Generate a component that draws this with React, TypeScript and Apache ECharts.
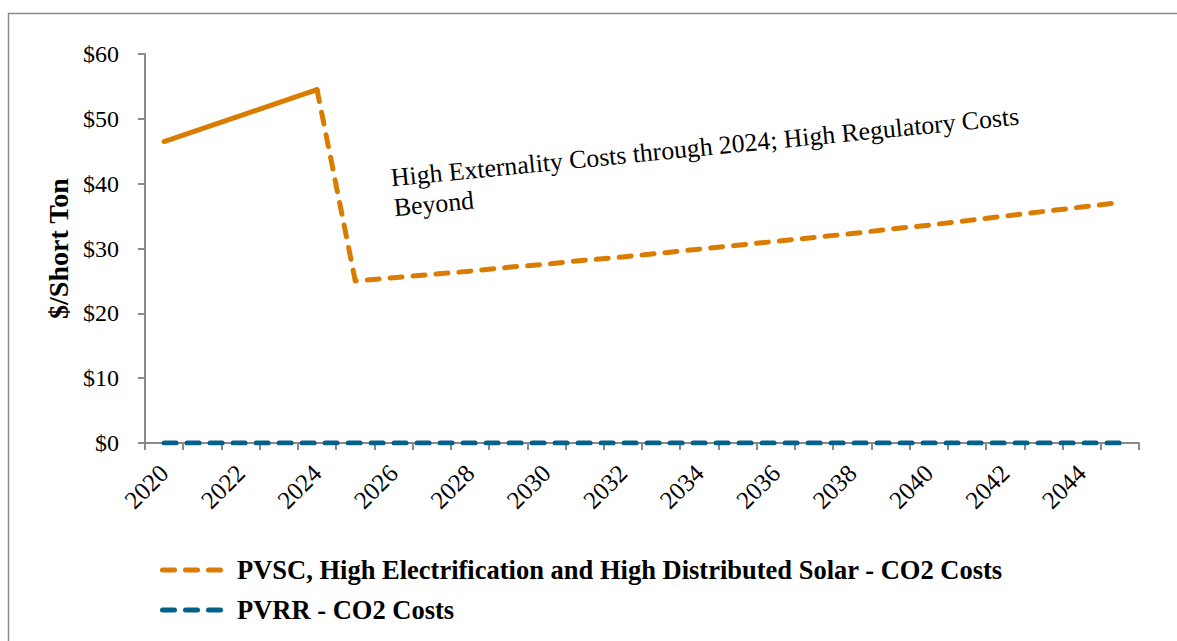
import React, { useEffect, useRef } from "react";
import * as echarts from "echarts";

const years: string[] = [
  "2020", "2021", "2022", "2023", "2024", "2025", "2026", "2027", "2028", "2029",
  "2030", "2031", "2032", "2033", "2034", "2035", "2036", "2037", "2038", "2039",
  "2040", "2041", "2042", "2043", "2044", "2045",
];

// High externality costs (solid part, through 2024)
const pvscExternality: (number | null)[] = [
  46.5, 48.5, 50.5, 52.5, 54.5, null, null, null, null, null,
  null, null, null, null, null, null, null, null, null, null,
  null, null, null, null, null, null,
];

// High regulatory costs beyond (dashed part)
const pvscRegulatory: (number | null)[] = [
  null, null, null, null, 54.5, 25.0, 25.5, 26.0, 26.5, 27.1,
  27.6, 28.2, 28.7, 29.3, 29.9, 30.5, 31.1, 31.7, 32.3, 33.0,
  33.6, 34.3, 35.0, 35.7, 36.4, 37.1,
];

const pvrr: number[] = [
  0, 0, 0, 0, 0, 0, 0, 0, 0, 0,
  0, 0, 0, 0, 0, 0, 0, 0, 0, 0,
  0, 0, 0, 0, 0, 0,
];

const seriesNames = [
  "PVSC, High Electrification and High Distributed Solar - CO2 Costs",
  "PVRR - CO2 Costs",
];

const annotation = "High Externality Costs through 2024; High Regulatory Costs\nBeyond";

const ORANGE = "#D97C00";
const BLUE = "#04618A";
const GRAY = "#8A8A8A";
const FONT = "'Liberation Serif', 'Times New Roman', serif";

// three rounded dashes, 63 x 5
const DASH_ICON =
  "path://M2.5 0H14.5A2.5 2.5 0 0 1 14.5 5H2.5A2.5 2.5 0 0 1 2.5 0Z" +
  "M25.5 0H37.5A2.5 2.5 0 0 1 37.5 5H25.5A2.5 2.5 0 0 1 25.5 0Z" +
  "M48.5 0H60.5A2.5 2.5 0 0 1 60.5 5H48.5A2.5 2.5 0 0 1 48.5 0Z";

export default function App() {
  const ref = useRef<HTMLDivElement>(null);

  useEffect(() => {
    if (!ref.current) return;
    const chart = echarts.init(ref.current, null, { renderer: "svg" });
    const dash = [12, 11];
    const option: any = {
      animation: false,
      backgroundColor: "#ffffff",
      textStyle: { fontFamily: FONT },
      grid: {
        left: 145,
        right: 38,
        top: 54,
        bottom: 198,
        containLabel: false,
        outerBoundsMode: "none",
      },
      legend: {
        show: true,
        orient: "vertical",
        left: 155,
        top: 549,
        data: [
          { name: seriesNames[0], icon: DASH_ICON, itemStyle: { color: ORANGE, borderWidth: 0 } },
          { name: seriesNames[1], icon: DASH_ICON, itemStyle: { color: BLUE, borderWidth: 0 } },
        ],
        itemWidth: 63,
        itemHeight: 5,
        itemGap: 8,
        selectedMode: false,
        textStyle: {
          fontFamily: FONT,
          fontWeight: "bold",
          fontSize: 26.5,
          color: "#000",
          lineHeight: 32,
          padding: [0, 0, 0, 9],
        },
      },
      xAxis: {
        type: "category",
        data: years,
        boundaryGap: true,
        axisLine: { show: true, lineStyle: { color: GRAY, width: 2 } },
        axisTick: {
          show: true,
          interval: 0,
          length: 7,
          lineStyle: { color: GRAY, width: 2 },
        },
        axisLabel: {
          interval: 1,
          rotate: 45,
          margin: 26,
          fontFamily: FONT,
          fontSize: 25,
          color: "#000",
        },
        splitLine: { show: false },
      },
      yAxis: {
        type: "value",
        min: 0,
        max: 60,
        interval: 10,
        name: "$/Short Ton",
        nameLocation: "middle",
        nameRotate: 90,
        nameGap: 72,
        nameTextStyle: {
          fontFamily: FONT,
          fontWeight: "bold",
          fontSize: 28,
          color: "#000",
        },
        axisLine: { show: true, lineStyle: { color: GRAY, width: 2 } },
        axisTick: { show: true, length: 7, lineStyle: { color: GRAY, width: 2 } },
        axisLabel: {
          formatter: (v: number) => "$" + v,
          fontFamily: FONT,
          fontSize: 24,
          color: "#000",
          margin: 26,
        },
        splitLine: { show: false },
      },
      series: [
        {
          name: "PVSC externality",
          type: "line",
          data: pvscExternality,
          symbol: "none",
          connectNulls: false,
          lineStyle: { color: ORANGE, width: 5, type: "solid", cap: "round", join: "round" },
          itemStyle: { color: ORANGE },
          z: 3,
        },
        {
          name: seriesNames[0],
          type: "line",
          data: pvscRegulatory,
          symbol: "none",
          connectNulls: false,
          lineStyle: { color: ORANGE, width: 5, type: dash, cap: "round", join: "round" },
          itemStyle: { color: ORANGE },
          z: 3,
        },
        {
          name: seriesNames[1],
          type: "line",
          data: pvrr,
          symbol: "none",
          lineStyle: { color: BLUE, width: 5, type: dash, cap: "round" },
          itemStyle: { color: BLUE },
          z: 4,
        },
      ],
      graphic: [
        {
          type: "rect",
          shape: { x: 8.5, y: 13.5, width: 1200, height: 700 },
          style: { fill: "none", stroke: GRAY, lineWidth: 1.5 },
          silent: true,
          z: 0,
        },
        {
          type: "text",
          x: 389.5,
          y: 163,
          rotation: (5.6 * Math.PI) / 180,
          style: {
            text: annotation,
            fontFamily: FONT,
            fontSize: 25.8,
            lineHeight: 30,
            fill: "#000",
            align: "left",
            verticalAlign: "top",
          },
          silent: true,
          z: 10,
        },
      ],
    };
    chart.setOption(option);
    return () => chart.dispose();
  }, []);

  return (
    <div
      ref={ref}
      style={{ position: "absolute", left: 0, top: 0, width: 1177, height: 641 }}
    />
  );
}
